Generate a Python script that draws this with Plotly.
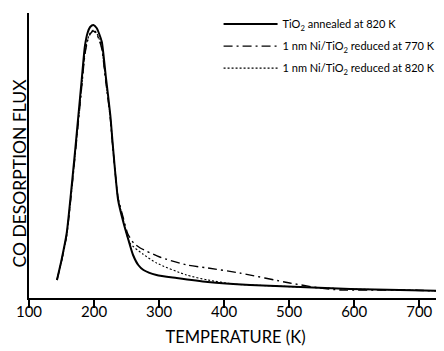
import plotly.graph_objects as go

# TiO2 annealed at 820 K (solid)
t_a = [143, 150, 158, 165, 171, 176, 181, 186, 190, 194, 199, 204, 208, 212, 218, 225, 229, 237, 245, 252, 260, 268, 276, 296, 327, 375, 440, 517, 594, 670, 740]
v_a = [18, 38, 65, 108, 148, 183, 218, 252, 265, 271, 273, 270, 264, 256, 222, 183, 152, 98, 76, 60, 43, 33, 28, 23, 20, 16, 13, 11, 9, 8, 7]

# 1 nm Ni/TiO2 reduced at 770 K (dash-dot)
t_b = [143, 150, 158, 165, 171, 176, 181, 186, 190, 194, 199, 204, 208, 212, 218, 225, 229, 237, 245, 252, 261, 271, 301, 343, 375, 424, 501, 547, 578, 670, 740]
v_b = [18, 37, 63, 104, 143, 177, 211, 244, 257, 264, 267, 264, 258, 249, 217, 180, 150, 100, 80, 64, 55, 50, 41, 33, 30, 25, 15, 10, 8, 8, 7]

# 1 nm Ni/TiO2 reduced at 820 K (dotted)
t_c = [143, 150, 158, 165, 171, 176, 181, 186, 190, 194, 199, 204, 208, 212, 218, 225, 229, 237, 245, 255, 275, 296, 342, 375, 414, 440, 517, 594, 670, 740]
v_c = [18, 37, 63, 105, 144, 178, 212, 245, 258, 265, 268, 265, 259, 250, 218, 181, 150, 100, 78, 55, 44, 35, 23, 18, 14, 13, 11, 9, 8, 7]

x_ticks = [100, 200, 300, 400, 500, 600, 700]

names = ["TiO<sub>2</sub> annealed at 820 K",
         "1 nm Ni/TiO<sub>2</sub> reduced at 770 K",
         "1 nm Ni/TiO<sub>2</sub> reduced at 820 K"]

fig = go.Figure()
fig.add_trace(go.Scatter(x=t_a, y=v_a, mode="lines", name=names[0],
                         line=dict(color="black", width=2, shape="spline", smoothing=0.6)))
fig.add_trace(go.Scatter(x=t_b, y=v_b, mode="lines", name=names[1],
                         line=dict(color="black", width=1.4, dash="9px,4px,2px,4px", shape="spline", smoothing=0.6)))
fig.add_trace(go.Scatter(x=t_c, y=v_c, mode="lines", name=names[2],
                         line=dict(color="black", width=1.1, dash="2px,2px", shape="spline", smoothing=0.6)))

# page body has an 8px margin; figure sized to fill the rest of the window
fig.update_layout(
    width=436, height=343,
    margin=dict(l=21, r=2, t=5, b=53),
    paper_bgcolor="white", plot_bgcolor="white",
    font=dict(family="Lato", color="black"),
    showlegend=True,
    legend=dict(x=0.459, y=1.012, xanchor="left", yanchor="top",
                font=dict(size=11, family="Lato"), itemwidth=54,
                bgcolor="rgba(0,0,0,0)", tracegroupgap=3),
    xaxis=dict(range=[100, 735], tickvals=x_ticks, ticks="outside", ticklen=8,
               tickwidth=1.5, tickcolor="black", showline=True, linecolor="black",
               linewidth=2, showgrid=False, zeroline=False, automargin=False,
               tickfont=dict(size=15, family="Lato"), ticklabelstandoff=-9,
               title=dict(text="TEMPERATURE (K)", font=dict(size=16.5, family="Lato"), standoff=12)),
    yaxis=dict(range=[0, 285], showticklabels=False, ticks="", showline=True,
               linecolor="black", linewidth=2, showgrid=False, zeroline=False,
               automargin=False),
    annotations=[dict(text="CO DESORPTION FLUX", xref="paper", yref="paper",
                      x=-0.022, y=0.44, textangle=-90, showarrow=False,
                      xanchor="center", yanchor="middle",
                      font=dict(size=17.5, family="Lato"))],
)
for i, tr in enumerate(fig.data):
    tr.legendgroup = f"g{i}"
fig.update_layout(legend_traceorder="grouped")

fig.write_html("out.html")
